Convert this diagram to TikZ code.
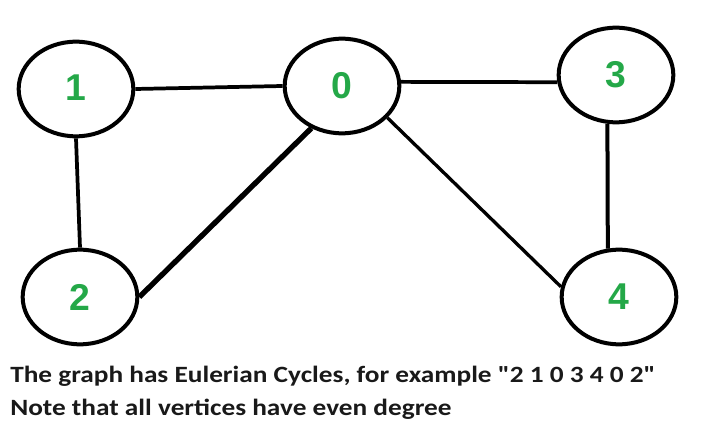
\documentclass[tikz,border=0pt]{standalone}
\usepackage{fontspec}
\setmainfont{Carlito}[Ligatures=TeXOff]
\newfontfamily\digitfont{Liberation Sans}
\usetikzlibrary{shapes.geometric}
\definecolor{numgreen}{RGB}{36,168,72}
\begin{document}
\begin{tikzpicture}[x=0.75pt,y=-0.75pt,
  vertex/.style={ellipse,draw=black,line width=3pt,minimum width=86pt,minimum height=71pt,inner sep=0pt,
    font=\digitfont\bfseries\fontsize{28}{28}\selectfont,text=numgreen},
  edge/.style={draw=black,line width=2.8pt},
  caption/.style={anchor=base west,inner sep=0pt,font=\bfseries\fontsize{17.5}{21}\selectfont,text=black!90}]
\useasboundingbox (0,0) rectangle (720,434);
\node[vertex] (n1) at (76,89) {\raisebox{2pt}{1}};
\node[vertex] (n0) at (342,86) {0};
\node[vertex] (n3) at (616,75) {3};
\node[vertex] (n2) at (80,297) {2};
\node[vertex] (n4) at (619,297) {4};
\draw[edge] (n1.east) -- (n0.west);
\draw[edge] (n0.4) -- (n3.187);
\draw[edge] (n1.south) -- (n2.north);
\draw[edge,line width=4pt] (n2.east) -- (n0.234);
\draw[edge,line width=2.5pt] (n0.325) -- (n4.170);
\draw[edge,line width=3pt] (n3.260) -- (n4.103);
\node[caption] (t1) at (10,382) {\scalebox{1.17}[1]{The graph has Eulerian Cycles, for example "2 1 0 3 4 0 2"}};
\node[caption] (t2) at (10,415) {\scalebox{1.17}[1]{Note that all vertices have even degree}};
\end{tikzpicture}
\end{document}
